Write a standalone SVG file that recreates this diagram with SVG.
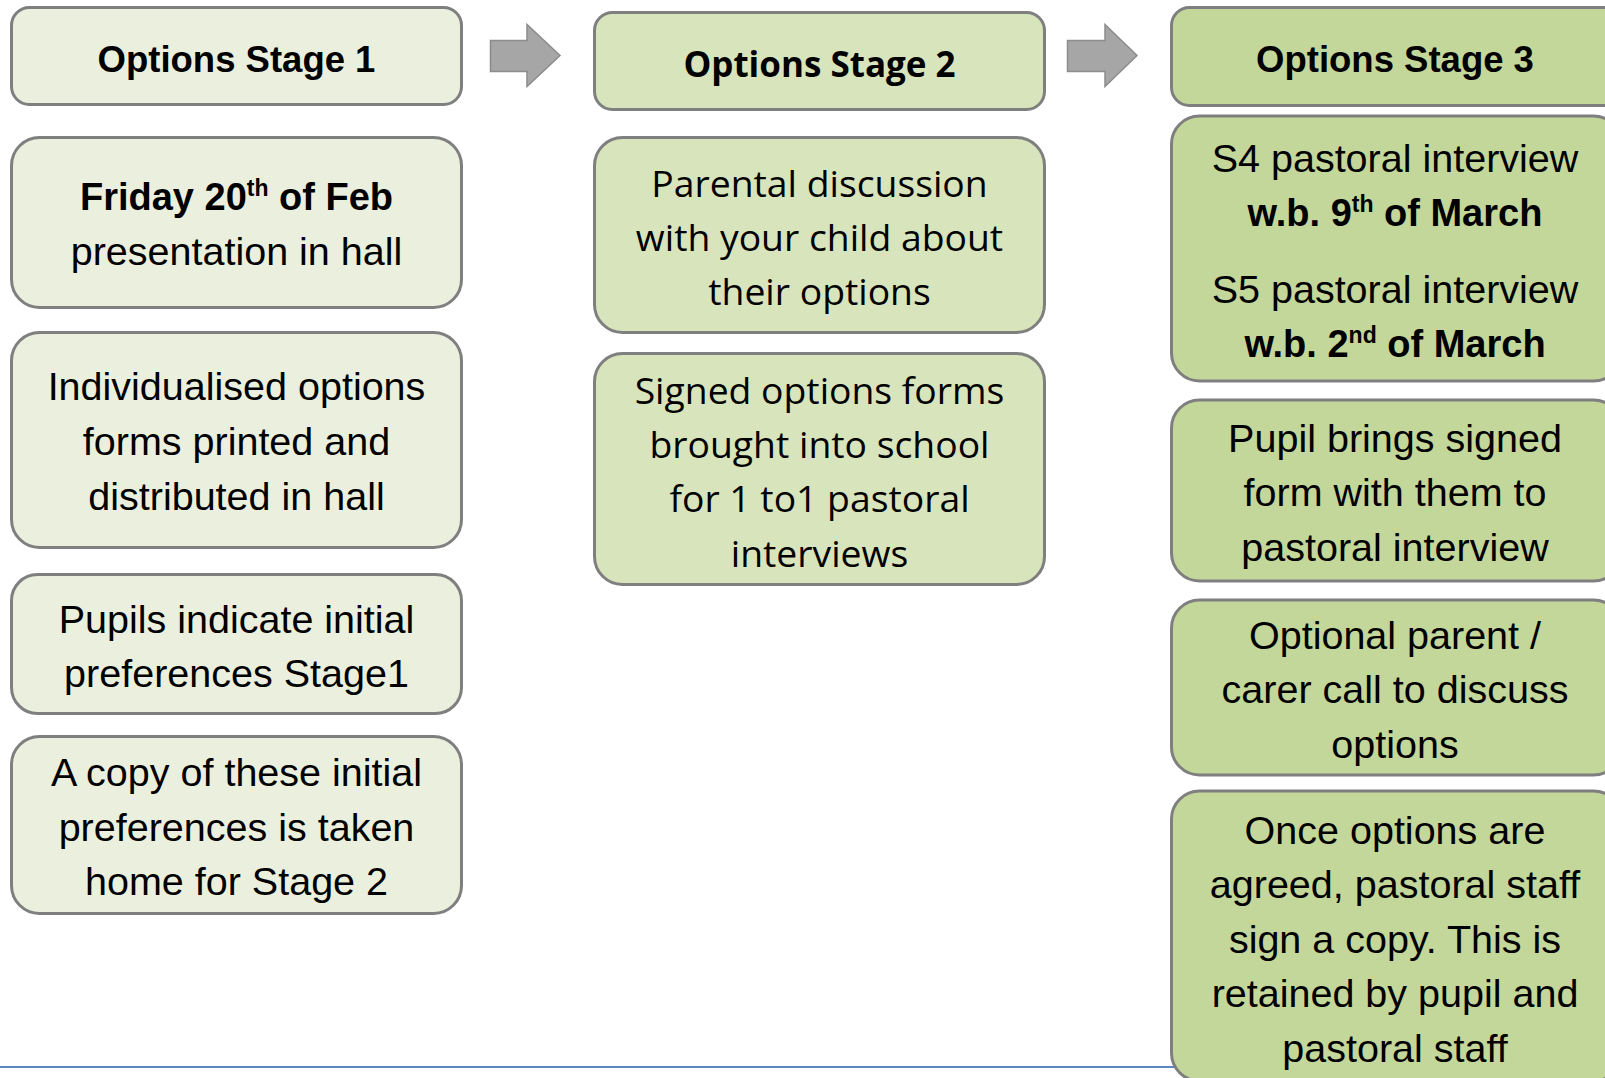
<svg xmlns="http://www.w3.org/2000/svg" width="1605" height="1078" viewBox="0 0 1605 1078">
<style>
.box{stroke:#7f7f7f;stroke-width:3}
.c1{fill:#ebf0de}
.c2{fill:#d8e4bc}
.c3{fill:#c4d79b}
.t{font-family:"Liberation Sans",Arial,sans-serif;font-size:39.5px;fill:#000;text-anchor:middle}
.t2{font-family:"Open Sans","Liberation Sans",sans-serif;font-size:37.3px;fill:#000;text-anchor:middle}
.h{font-weight:bold;font-size:36.5px}
.t2.h{font-size:35px}
.b{font-weight:bold;font-size:38px}
.arrow{fill:#a6a6a6;stroke:#8c8c8c;stroke-width:1.5}
</style>
<line x1="0" y1="1067" x2="1190" y2="1067" stroke="#5b87c7" stroke-width="2"/>
<g id="connectors">
<path class="arrow" d="M490.5,40.5 H527 V24.5 L560,55.5 L527,86.5 V71.5 H490.5 Z"/>
<path class="arrow" d="M1067.5,40.5 H1105 V24.5 L1137,55.5 L1105,86.5 V71.5 H1067.5 Z"/>
</g>
<g id="stage1">
<rect class="box c1" x="11.5" y="7.5" width="450" height="97" rx="18"/>
<text class="t h" x="236.5" y="71.5">Options Stage 1</text>
</g>
<g id="s1-friday">
<rect class="box c1" x="11.5" y="137.5" width="450" height="170" rx="28"/>
<text class="t" x="236.5" y="209.5"><tspan class="b">Friday 20<tspan font-size="23" dy="-14">th</tspan><tspan dy="14"> of Feb</tspan></tspan></text>
<text class="t" x="236.5" y="265">presentation in hall</text>
</g>
<g id="s1-forms">
<rect class="box c1" x="11.5" y="332.5" width="450" height="215" rx="28"/>
<text class="t" x="236.5" y="400">Individualised options</text>
<text class="t" x="236.5" y="454.5">forms printed and</text>
<text class="t" x="236.5" y="509.5">distributed in hall</text>
</g>
<g id="s1-pupils">
<rect class="box c1" x="11.5" y="574.5" width="450" height="139" rx="26"/>
<text class="t" x="236.5" y="632.5">Pupils indicate initial</text>
<text class="t" x="236.5" y="687">preferences Stage1</text>
</g>
<g id="s1-copy">
<rect class="box c1" x="11.5" y="736.5" width="450" height="177" rx="28"/>
<text class="t" x="236.5" y="786">A copy of these initial</text>
<text class="t" x="236.5" y="840.5">preferences is taken</text>
<text class="t" x="236.5" y="894.5">home for Stage 2</text>
</g>
<g id="stage2">
<rect class="box c2" x="594.5" y="12.5" width="450" height="97" rx="18"/>
<text class="t2 h" x="819.5" y="77">Options Stage 2</text>
</g>
<g id="s2-parental">
<rect class="box c2" x="594.5" y="137.5" width="450" height="195" rx="28"/>
<text class="t2" x="819.5" y="196.5">Parental discussion</text>
<text class="t2" x="819.5" y="251">with your child about</text>
<text class="t2" x="819.5" y="305">their options</text>
</g>
<g id="s2-signed">
<rect class="box c2" x="594.5" y="353.5" width="450" height="231" rx="28"/>
<text class="t2" x="819.5" y="403.5">Signed options forms</text>
<text class="t2" x="819.5" y="457.5">brought into school</text>
<text class="t2" x="819.5" y="512">for 1 to1 pastoral</text>
<text class="t2" x="819.5" y="567">interviews</text>
</g>
<g id="stage3">
<rect class="box c3" x="1171.5" y="7.5" width="450" height="98" rx="18"/>
<text class="t h" x="1395" y="71.5">Options Stage 3</text>
</g>
<g id="s3-interviews">
<rect class="box c3" x="1171.5" y="116" width="450" height="265" rx="28"/>
<text class="t" x="1395" y="172">S4 pastoral interview</text>
<text class="t b" x="1395" y="226">w.b. 9<tspan font-size="23" dy="-14">th</tspan><tspan dy="14"> of March</tspan></text>
<text class="t" x="1395" y="303">S5 pastoral interview</text>
<text class="t b" x="1395" y="357">w.b. 2<tspan font-size="23" dy="-14">nd</tspan><tspan dy="14"> of March</tspan></text>
</g>
<g id="s3-pupil">
<rect class="box c3" x="1171.5" y="400" width="450" height="181" rx="28"/>
<text class="t" x="1395" y="451.5">Pupil brings signed</text>
<text class="t" x="1395" y="505.5">form with them to</text>
<text class="t" x="1395" y="561">pastoral interview</text>
</g>
<g id="s3-optional">
<rect class="box c3" x="1171.5" y="600" width="450" height="175" rx="28"/>
<text class="t" x="1395" y="649">Optional parent /</text>
<text class="t" x="1395" y="703">carer call to discuss</text>
<text class="t" x="1395" y="757.5">options</text>
</g>
<g id="s3-once">
<rect class="box c3" x="1171.5" y="791" width="450" height="290" rx="28"/>
<text class="t" x="1395" y="843.5">Once options are</text>
<text class="t" x="1395" y="898">agreed, pastoral staff</text>
<text class="t" x="1395" y="953">sign a copy. This is</text>
<text class="t" x="1395" y="1007">retained by pupil and</text>
<text class="t" x="1395" y="1061.5">pastoral staff</text>
</g>
</svg>
